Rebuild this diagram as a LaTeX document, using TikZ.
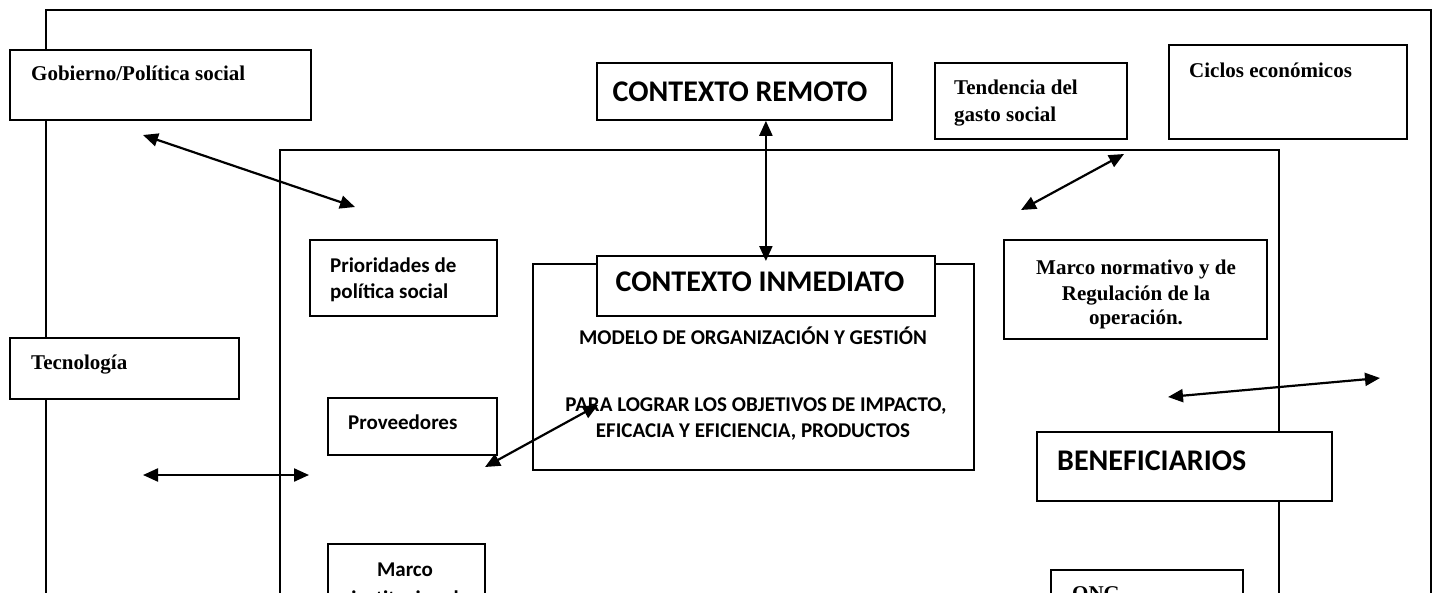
\documentclass[tikz,border=0pt]{standalone}
\usepackage{fontspec}
\setmainfont{Liberation Serif}
\newfontfamily\calfont{Carlito}
\usetikzlibrary{arrows.meta,calc}
\begin{document}
\begin{tikzpicture}[x=1pt,y=-1pt,
  box/.style={draw=black, line width=1.8pt, fill=white, rectangle, inner sep=0pt, anchor=north west},
  framebox/.style={draw=black, line width=1.8pt, rectangle, inner sep=0pt, anchor=north west},
  serifb/.style={font=\fontsize{21}{26}\selectfont\bfseries, inner sep=0pt},
  sansb/.style={font=\calfont\fontsize{21}{26}\selectfont\bfseries, inner sep=0pt},
  sansbig/.style={font=\calfont\fontsize{30}{36}\selectfont\bfseries, inner sep=0pt},
  link/.style={line width=2.2pt, {Triangle[length=15pt,width=13pt]}-{Triangle[length=15pt,width=13pt]}}
]
\useasboundingbox (0,0) rectangle (1432,592);
\clip (0,0) rectangle (1432,592);
\fill[white] (0,0) rectangle (1432,592);

% frames
\node[framebox, minimum width=1385pt, minimum height=700pt] (outer) at (45,9) {};
\node[framebox, minimum width=999pt, minimum height=560pt] (inner) at (279,149) {};

% boxes
\node[box, minimum width=301pt, minimum height=70pt] (gob) at (9,49) {};
\node[serifb, anchor=base west] (gobt) at (31,80) {Gobierno/Política social};

\node[box, minimum width=295pt, minimum height=57pt] (cr) at (596,62) {};
\node[sansbig] (crt) at (740,92) {CONTEXTO REMOTO};

\node[box, minimum width=192pt, minimum height=76pt] (tend) at (934,62) {};
\node[serifb, anchor=base west] (tendt1) at (954,94) {Tendencia del};
\node[serifb, anchor=base west] (tendt2) at (954,121) {gasto social};

\node[box, minimum width=238pt, minimum height=94pt] (cic) at (1168,44) {};
\node[serifb, anchor=base west] (cict) at (1189,77) {Ciclos económicos};

\node[box, minimum width=187pt, minimum height=76pt] (prio) at (309,239) {};
\node[sansb, anchor=base west] (priot1) at (330,272) {Prioridades de};
\node[sansb, anchor=base west] (priot2) at (330,298) {política social};

\node[box, minimum width=441pt, minimum height=206pt] (mod) at (532,263) {};
\node[box, minimum width=338pt, minimum height=60pt] (ci) at (596,255) {};
\node[sansbig] (cit) at (760,282) {CONTEXTO INMEDIATO};
\node[sansb, anchor=base] (modt1) at (753,344) {MODELO DE ORGANIZACIÓN Y GESTIÓN};
\node[sansb, anchor=base] (modt2) at (756,411) {PARA LOGRAR LOS OBJETIVOS DE IMPACTO,};
\node[sansb, anchor=base] (modt3) at (753,437) {EFICACIA Y EFICIENCIA, PRODUCTOS};

\node[box, minimum width=263pt, minimum height=99pt] (mn) at (1003,239) {};
\node[serifb, anchor=base] (mnt1) at (1136,274) {Marco normativo y de};
\node[serifb, anchor=base] (mnt2) at (1136,300) {Regulación de la};
\node[serifb, anchor=base] (mnt3) at (1136,324) {operación.};

\node[box, minimum width=229pt, minimum height=61pt] (tec) at (9,337) {};
\node[serifb, anchor=base west] (tect) at (31,369) {Tecnología};

\node[box, minimum width=169pt, minimum height=57pt] (prov) at (327,397) {};
\node[sansb, anchor=base west] (provt) at (348,429) {Proveedores};

\node[box, minimum width=295pt, minimum height=69pt] (ben) at (1036,431) {};
\node[sansbig, anchor=base west] (bent) at (1057,470) {BENEFICIARIOS};

\node[box, minimum width=157pt, minimum height=100pt] (mi) at (327,543) {};
\node[sansb, anchor=base] (mit1) at (405,576) {Marco};
\node[sansb, anchor=base] (mit2) at (405,605) {institucional};

\node[box, minimum width=192pt, minimum height=80pt] (ong) at (1050,569) {};
\node[serifb, anchor=base west] (ongt) at (1072,600) {ONG};

% arrow end points
\coordinate (a1s) at (143,135);
\coordinate (a1e) at (355,207);
\coordinate (a3s) at (1124,154);
\coordinate (a3e) at (1021,210);
\coordinate (a4s) at (143,475);
\coordinate (a4e) at (309,475);
\coordinate (a5s) at (598,405);
\coordinate (a5e) at (485,467);
\coordinate (a6s) at (1168,397);
\coordinate (a6e) at (1380,378);

% arrows
\draw[link] (a1s) -- (a1e);
\draw[link] (cr.south -| ci.north) -- ($(ci.north)+(0,6)$);
\draw[link] (a3s) -- (a3e);
\draw[link] (a4s) -- (a4e);
\draw[link] (a5s) -- (a5e);
\draw[link] (a6s) -- (a6e);
\end{tikzpicture}
\end{document}
